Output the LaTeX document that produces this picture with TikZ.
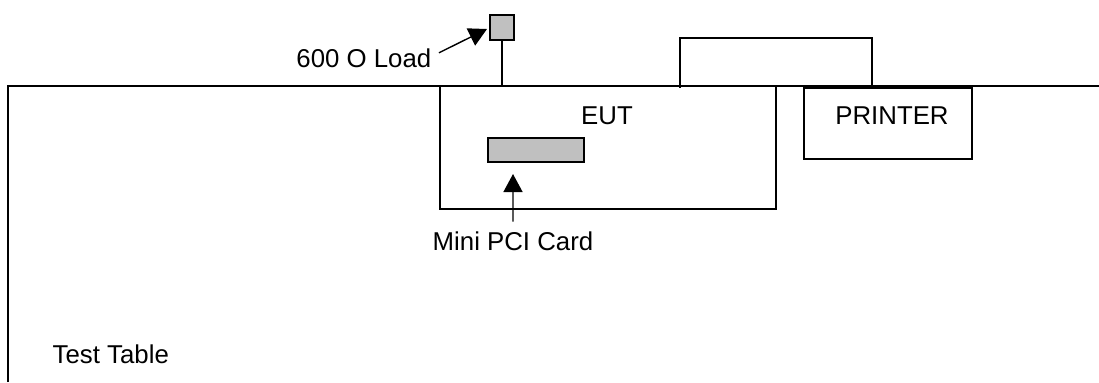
\documentclass[tikz,border=0pt]{standalone}
\usepackage{fontspec}
\setmainfont{Liberation Sans}
\usepackage{xcolor}
\usepackage{tikz}
\usetikzlibrary{positioning, calc, arrows.meta}
\definecolor{cardgray}{RGB}{192, 192, 192}

\begin{document}
\begin{tikzpicture}[x=1bp, y=-1bp, line width=1.4bp,
        unit/.style={draw=black, inner sep=0pt, outer sep=0pt},
        lbl/.style={inner sep=0pt, font=\fontsize{25.8bp}{30bp}\selectfont},
        arr/.style={-{Triangle[length=18bp, width=19bp]}}]
        \useasboundingbox (0,0) rectangle (1099,382);
        \draw (8,382) -- (8,86) -- (1099,86);
        \node[unit, minimum width=336bp, minimum height=123bp] (eut) at (608,147.5) {};
        \node[lbl, anchor=base] (eutlbl) at (607,124) {EUT};
        \node[unit, fill=cardgray, minimum width=96bp, minimum height=24bp] (card) at (536,150) {};
        \node[unit, minimum width=168bp, minimum height=71bp] (printer) at (888,123.5) {};
        \node[lbl, anchor=base] (printerlbl) at (892,124) {PRINTER};
        \node[unit, fill=cardgray, minimum width=24bp, minimum height=25bp] (load) at (502,27.5) {};
        \coordinate (loadfoot) at (502,86);
        \draw (load.south) -- (loadfoot);
        \node[lbl, anchor=base east] (loadlbl) at (432,67) {600 O Load};
        \draw[arr] ([xshift=7bp, yshift=5bp]loadlbl.east) -- ([xshift=-3bp, yshift=-1.5bp]load.west);
        \node[lbl, anchor=base] (minilbl) at (513,250) {Mini PCI Card};
        \draw[arr] ([yshift=9bp]minilbl.north) -- ([xshift=-23bp, yshift=-12bp]card.south);
        \coordinate (cablea) at (680,88);
        \coordinate (cableb) at (872,86);
        \draw (cablea) -- (680,38) -- (872,38) -- (cableb);
        \node[lbl, anchor=base west] (tablelbl) at (52,363) {Test Table};
\end{tikzpicture}
\end{document}
